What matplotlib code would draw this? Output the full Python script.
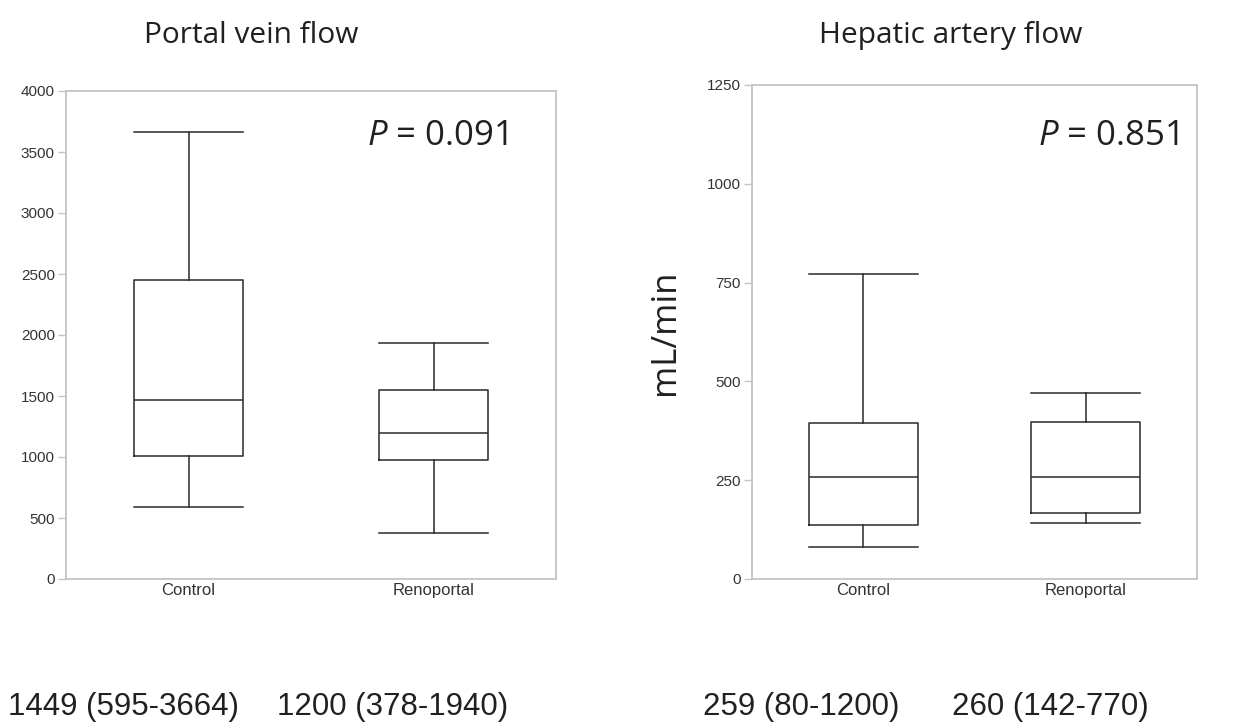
import matplotlib
matplotlib.use("Agg")
import matplotlib.pyplot as plt

# ---- data ----
categories = ["Control", "Renoportal"]

# Portal vein flow (mL/min): whisker low, Q1, median, Q3, whisker high
pv_low = [592, 378]
pv_q1 = [1005, 973]
pv_med = [1467, 1197]
pv_q3 = [2451, 1547]
pv_high = [3664, 1937]

# Hepatic artery flow (mL/min)
ha_low = [80, 142]
ha_q1 = [137, 166]
ha_med = [259, 259]
ha_q3 = [394, 397]
ha_high = [772, 471]

pv_ticks = [0, 500, 1000, 1500, 2000, 2500, 3000, 3500, 4000]
ha_ticks = [0, 250, 500, 750, 1000, 1250]

titles = ["Portal vein flow", "Hepatic artery flow"]
p_texts = ["0.091", "0.851"]
summary_texts = ["1449 (595-3664)", "1200 (378-1940)", "259 (80-1200)", "260 (142-770)"]
ylabel_text = "mL/min"

# ---- styling ----
plt.rcParams["mathtext.fontset"] = "custom"
plt.rcParams["mathtext.it"] = "Open Sans:italic"
plt.rcParams["mathtext.rm"] = "Open Sans"

W, H = 1249, 724
fig = plt.figure(figsize=(W / 100, H / 100), dpi=100)

HEAD_FONT = ["Open Sans", "DejaVu Sans"]
BODY_FONT = ["Liberation Sans", "DejaVu Sans"]
SPINE = "#c4c4c4"
LINE = "#2a2a2a"
TXT = "#231f20"


def make_stats(low, q1, med, q3, high):
    return [dict(whislo=a, q1=b, med=c, q3=d, whishi=e, label=lab)
            for a, b, c, d, e, lab in zip(low, q1, med, q3, high, categories)]


def style_axes(ax, ticks, ymax):
    ax.set_xlim(-0.5, 1.5)
    ax.set_ylim(0, ymax)
    ax.set_yticks(ticks)
    ax.set_yticklabels([str(t) for t in ticks], family=BODY_FONT, fontsize=11, color="#333333")
    ax.set_xticks(range(len(categories)))
    ax.set_xticklabels(categories, family=BODY_FONT, fontsize=12, color="#333333")
    ax.tick_params(axis="y", length=6, width=1, color=SPINE, pad=2)
    ax.tick_params(axis="x", length=0, pad=3)
    for s in ax.spines.values():
        s.set_color(SPINE)
        s.set_linewidth(1.3)


bprops = dict(color=LINE, linewidth=1.1)

ax1 = fig.add_axes([66 / W, 1 - 579 / H, 490 / W, (579 - 91) / H])
ax1.bxp(make_stats(pv_low, pv_q1, pv_med, pv_q3, pv_high), positions=[0, 1], widths=0.445,
        showfliers=False, boxprops=bprops, whiskerprops=bprops, capprops=bprops,
        medianprops=bprops, capwidths=0.445)
style_axes(ax1, pv_ticks, 4000)

ax2 = fig.add_axes([752 / W, 1 - 579 / H, 445 / W, (579 - 85) / H])
ax2.bxp(make_stats(ha_low, ha_q1, ha_med, ha_q3, ha_high), positions=[0, 1], widths=0.49,
        showfliers=False, boxprops=bprops, whiskerprops=bprops, capprops=bprops,
        medianprops=bprops, capwidths=0.49)
style_axes(ax2, ha_ticks, 1250)
ax2.set_ylabel(ylabel_text, family=HEAD_FONT, fontsize=25, color=TXT, labelpad=18)

# titles
fig.text(251 / W, 1 - 43 / H, titles[0], ha="center", va="baseline",
         family=HEAD_FONT, fontsize=21.5, color=TXT)
fig.text(951 / W, 1 - 43 / H, titles[1], ha="center", va="baseline",
         family=HEAD_FONT, fontsize=21.5, color=TXT)

# P values
for xr, txt in [(508, p_texts[0]), (1179, p_texts[1])]:
    fig.text(xr / W, 1 - 145 / H, r"$P$" + " = " + txt, ha="right", va="baseline",
             family=HEAD_FONT, fontsize=25, color=TXT)

# summary texts
for xl, txt in zip([8, 277, 703, 952], summary_texts):
    fig.text(xl / W, 1 - 715 / H, txt, ha="left", va="baseline",
             family=BODY_FONT, fontsize=22.5, color=TXT)

fig.savefig("out.png", dpi=100)
